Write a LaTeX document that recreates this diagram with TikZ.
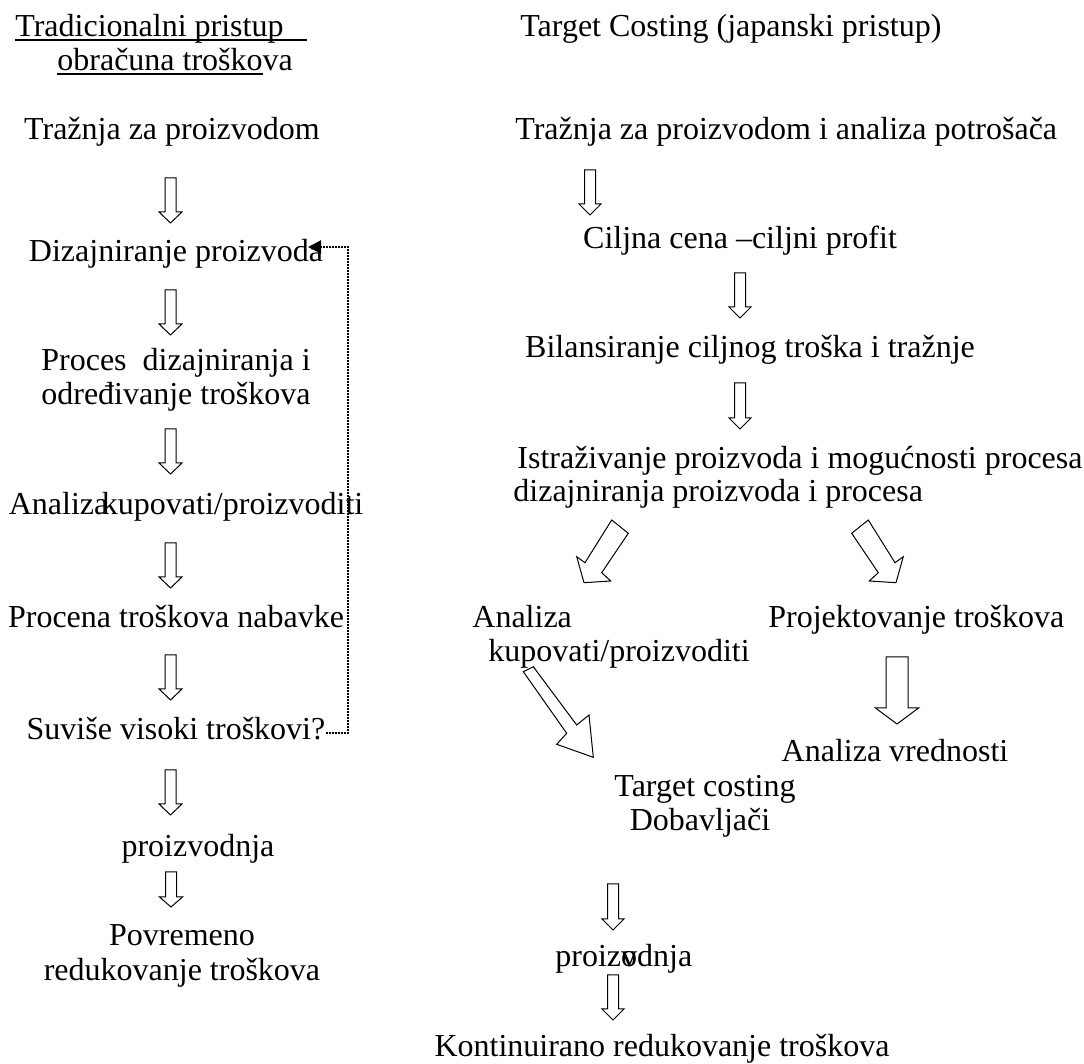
\documentclass[tikz,border=0pt]{standalone}
\usepackage{fontspec}
\setmainfont{Liberation Serif}
\usetikzlibrary{arrows.meta}
\begin{document}
\begin{tikzpicture}[x=0.5pt,y=-0.5pt,
  lbl/.style={anchor=base, inner sep=0pt, font=\fontsize{16pt}{17pt}\selectfont},
  lblw/.style={lbl, anchor=base west},
  blockline/.style={draw=black, line width=0.5pt, fill=white, line join=miter},
  loopline/.style={line width=1pt, dash pattern=on 1pt off 0.5pt,
    -{Triangle[length=6.5pt,width=6.5pt]}},
  uline/.style={line width=0.6pt},
  pics/downblock/.style n args={4}{code={
    % #1 length, #2 shaft half width, #3 head half width, #4 head length
    \path[blockline] (-#2,0) -- (#2,0) -- (#2,#1-#4) -- (#3,#1-#4) -- (0,#1)
      -- (-#3,#1-#4) -- (-#2,#1-#4) -- cycle;}},
]
\useasboundingbox (0,0) rectangle (1084,1064);
\fill[white] (0,0) rectangle (1084,1064);

% ---------- left column: traditional approach ----------
\node[lblw] (tl1) at (15,37) {Tradicionalni pristup};
\node[lblw] (tl2) at (57,71) {obračuna troškova};
\draw[uline] ([yshift=-1.5pt]tl1.base west) -- ++(292,0);
\draw[uline] ([yshift=-1.5pt]tl2.base west) -- ++(206,0);

\node[lbl] (l1) at (172,140) {Tražnja za proizvodom};
\node[lbl] (l2) at (176,262) {Dizajniranje proizvoda};
\node[lbl] (l3a) at (176,371) {Proces\ \ dizajniranja i};
\node[lbl] (l3b) at (176,405) {određivanje troškova};
\node[lbl] (l4) at (186,515) {Analiza\kern-0.2em kupovati/proizvoditi};
\node[lbl] (l5) at (176,628) {Procena troškova nabavke};
\node[lbl] (l6) at (176,740) {Suviše visoki troškovi?};
\node[lbl] (l7) at (198,857) {proizvodnja};
\node[lbl] (l8a) at (182,946) {Povremeno};
\node[lbl] (l8b) at (182,980) {redukovanje troškova};

\pic at (170.5,178) {downblock={45}{5.5}{11.5}{11}};
\pic at (170.5,290) {downblock={45}{5.5}{11.5}{11}};
\pic at (170.5,429) {downblock={45}{5.5}{11.5}{11}};
\pic at (170.5,543) {downblock={45}{5.5}{11.5}{11}};
\pic at (170.5,655) {downblock={45}{5.5}{11.5}{11}};
\pic at (170.5,770) {downblock={45}{5.5}{11.5}{11}};
\pic at (171,872) {downblock={35}{5.5}{11.5}{10}};

% feedback loop: costs too high -> back to design
\coordinate (loopcorner) at (348,247);
\coordinate (looptip) at (308,247);
\draw[loopline] ([yshift=3.5pt]l6.base east) -| (loopcorner) -- (looptip);

% ---------- right column: target costing ----------
\node[lblw] (tr) at (520,37) {Target Costing (japanski pristup)};
\node[lblw] (r1) at (515,140) {Tražnja za proizvodom i analiza potrošača};
\node[lbl] (r2) at (740,249) {Ciljna cena –ciljni profit};
\node[lbl] (r3) at (750,358) {Bilansiranje ciljnog troška i tražnje};
\node[lblw] (r4a) at (517,469) {Istraživanje proizvoda i mogućnosti procesa};
\node[lblw] (r4b) at (513,502) {dizajniranja proizvoda i procesa};
\node[lblw] (r5a) at (472,628) {Analiza};
\node[lblw] (r5b) at (488,662) {kupovati/proizvoditi};
\node[lblw] (r6) at (768,628) {Projektovanje troškova};
\node[lbl] (r7) at (895,762) {Analiza vrednosti};
\node[lbl] (r8a) at (705,797) {Target costing};
\node[lbl] (r8b) at (700,831) {Dobavljači};
\node[lblw] (r9) at (555,967) {proiz\rlap{v}odnja};
\node[lbl] (r10) at (662,1057) {Kontinuirano redukovanje troškova};

\pic at (590,170) {downblock={45}{5.5}{11}{11}};
\pic at (740,273) {downblock={45}{5.5}{11}{11}};
\pic at (740,383) {downblock={46}{5.5}{11}{11}};
\pic at (613,884) {downblock={46}{5.5}{11}{11}};
\pic at (613,975) {downblock={45}{5.5}{11}{11}};
\pic at (897,657) {downblock={67}{11}{21.5}{16}};

% slanted block arrows
\path[blockline] (628.3,533.3) -- (611.7,520) -- (585,562.7) -- (576.7,556.7)
  -- (584,582.7) -- (610.7,581) -- (601.7,572.7) -- cycle;
\path[blockline] (851.7,533.3) -- (868.3,520) -- (895,562.7) -- (903.3,556.7)
  -- (896,582.7) -- (869.3,581) -- (878.3,572.7) -- cycle;
\path[blockline] (523.3,671.7) -- (533.3,666.7) -- (576.7,725) -- (589,715)
  -- (593.3,757.3) -- (556.7,744.3) -- (566.7,733.3) -- cycle;
\end{tikzpicture}
\end{document}
